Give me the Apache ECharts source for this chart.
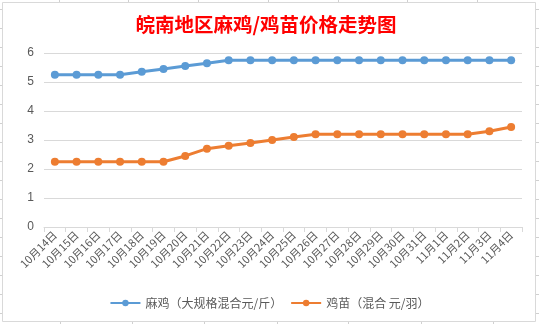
<!DOCTYPE html>
<html>
<head>
<meta charset="utf-8">
<script src="https://cdn.jsdelivr.net/npm/echarts@6/dist/echarts.min.js"></script>
<style>
html,body{margin:0;padding:0;background:#fff;}
#c{width:539px;height:324px;}
</style>
</head>
<body>
<div id="c"></div>
<script>
const titleText = '皖南地区麻鸡/鸡苗价格走势图';
const categories = ['10月14日','10月15日','10月16日','10月17日','10月18日','10月19日','10月20日','10月21日','10月22日','10月23日','10月24日','10月25日','10月26日','10月27日','10月28日','10月29日','10月30日','10月31日','11月1日','11月2日','11月3日','11月4日'];
const seriesNames = ['麻鸡（大规格混合元/斤）','鸡苗（混合 元/羽）'];
const maji = [5.25,5.25,5.25,5.25,5.35,5.45,5.55,5.65,5.75,5.75,5.75,5.75,5.75,5.75,5.75,5.75,5.75,5.75,5.75,5.75,5.75,5.75];
const jimiao = [2.25,2.25,2.25,2.25,2.25,2.25,2.45,2.7,2.8,2.9,3.0,3.1,3.2,3.2,3.2,3.2,3.2,3.2,3.2,3.2,3.3,3.45];
const yTicks = [0,1,2,3,4,5,6];

const chart = echarts.init(document.getElementById('c'), null, {renderer:'canvas'});

// decorative frame + spreadsheet gridline stubs
const deco = [];
deco.push({type:'rect', shape:{x:2.5,y:2.5,width:533,height:319}, style:{fill:'none',stroke:'#d9d9d9',lineWidth:1}, silent:true});
[59,128,198,268,338,407,477].forEach(x=>deco.push({type:'line',shape:{x1:x+0.5,y1:0,x2:x+0.5,y2:2},style:{stroke:'#d0d0d0',lineWidth:1},silent:true}));
[60,132,204,277,348,421,493].forEach(x=>deco.push({type:'line',shape:{x1:x+0.5,y1:322,x2:x+0.5,y2:324},style:{stroke:'#d0d0d0',lineWidth:1},silent:true}));
for(let y=9;y<324;y+=19){
  deco.push({type:'line',shape:{x1:0,y1:y+0.5,x2:2,y2:y+0.5},style:{stroke:'#d0d0d0',lineWidth:1},silent:true});
  deco.push({type:'line',shape:{x1:536,y1:y+0.5,x2:539,y2:y+0.5},style:{stroke:'#d0d0d0',lineWidth:1},silent:true});
}

chart.setOption({
  animation:false,
  backgroundColor:'#ffffff',
  graphic: deco,
  title:{
    text:titleText,
    left:261, textAlign:'center', top:10,
    textStyle:{color:'#ff0000',fontSize:19.5,fontWeight:'bold',fontFamily:'"Noto Sans CJK SC", sans-serif'}
  },
  legend:{
    bottom:10, left:'center',
    itemWidth:30, itemHeight:8, itemGap:8,
    textStyle:{color:'#595959',fontSize:12,fontFamily:'"Noto Sans CJK SC", sans-serif'},
    data: seriesNames
  },
  grid:{left:44,right:17,top:53,bottom:97,containLabel:false},
  xAxis:{
    type:'category',
    data:categories,
    boundaryGap:true,
    axisLine:{lineStyle:{color:'#d9d9d9',width:1}},
    axisTick:{show:true,length:5,lineStyle:{color:'#d9d9d9'}},
    axisLabel:{rotate:45,color:'#595959',fontSize:11,interval:0,margin:6,fontFamily:'"Noto Sans CJK SC", sans-serif'}
  },
  yAxis:{
    type:'value', min:yTicks[0], max:yTicks[yTicks.length-1], interval:1,
    axisLine:{show:false}, axisTick:{show:false},
    axisLabel:{color:'#595959',fontSize:12,margin:10,fontFamily:'"Liberation Sans", sans-serif'},
    splitLine:{lineStyle:{color:'#d9d9d9',width:1}}
  },
  series:[
    {name:seriesNames[0],type:'line',data:maji,symbol:'circle',symbolSize:8,
     lineStyle:{color:'#5b9bd5',width:3},itemStyle:{color:'#5b9bd5'}},
    {name:seriesNames[1],type:'line',data:jimiao,symbol:'circle',symbolSize:8,
     lineStyle:{color:'#ed7d31',width:3},itemStyle:{color:'#ed7d31'}}
  ]
});
</script>
</body>
</html>
